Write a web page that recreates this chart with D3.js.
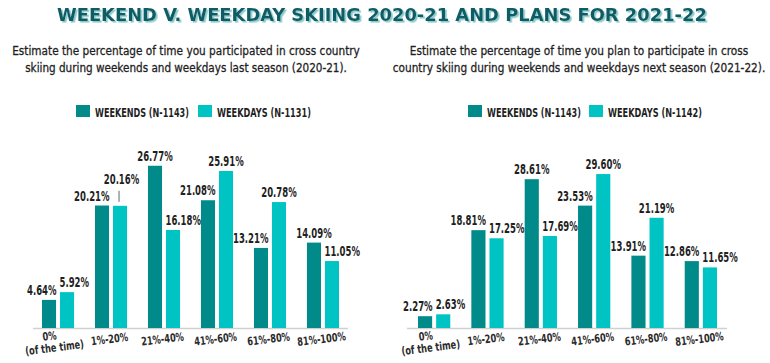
<!DOCTYPE html>
<html>
<head>
<meta charset="utf-8">
<script src="https://cdn.jsdelivr.net/npm/d3@7/dist/d3.min.js"></script>
<style>
  html, body { margin: 0; padding: 0; background: #ffffff; }
  svg { display: block; }
</style>
</head>
<body>
<svg id="chart" width="770" height="363"></svg>
<script>
// ---------- DATA ----------
const titleText = "WEEKEND V. WEEKDAY SKIING 2020-21 AND PLANS FOR 2021-22";
const categories = ["0%", "1%-20%", "21%-40%", "41%-60%", "61%-80%", "81%-100%"];
const categorySubLabels = ["(of the time)", "", "", "", "", ""];
const seriesNames = ["Weekends", "Weekdays"];

const leftSubtitle = ["Estimate the percentage of time you participated in cross country",
                      "skiing during weekends and weekdays last season (2020-21)."];
const leftLegend = ["WEEKENDS (N-1143)", "WEEKDAYS (N-1131)"];
const weekends2021 = [4.64, 20.21, 26.77, 21.08, 13.21, 14.09];
const weekdays2021 = [5.92, 20.16, 16.18, 25.91, 20.78, 11.05];

const rightSubtitle = ["Estimate the percentage of time you plan to participate in cross",
                       "country skiing during weekends and weekdays next season (2021-22)."];
const rightLegend = ["WEEKENDS (N-1143)", "WEEKDAYS (N-1142)"];
const weekends2122 = [2.27, 18.81, 28.61, 23.53, 13.91, 12.86];
const weekdays2122 = [2.63, 17.25, 17.69, 29.60, 21.19, 11.65];

// ---------- STYLE ----------
const colors = ["#008b8a", "#00c4c4"];
const font = "'DejaVu Sans Condensed', 'DejaVu Sans', sans-serif";
const svg = d3.select("#chart");

const defs = svg.append("defs");
defs.append("filter").attr("id", "titleShadow")
  .attr("x", "-5%").attr("y", "-30%").attr("width", "110%").attr("height", "160%")
  .append("feDropShadow")
  .attr("dx", 1.6).attr("dy", 1.6).attr("stdDeviation", 0)
  .attr("flood-color", "#8ccaca").attr("flood-opacity", 1);

// text helper: places text in a group and compresses it horizontally
function fitText(parent, x, y, txt, o) {
  const g = parent.append("g").attr("transform", `translate(${x},${y})` + (o.rotate ? ` rotate(${o.rotate})` : ""));
  const t = g.append("text")
    .attr("x", 0).attr("y", 0)
    .attr("text-anchor", o.anchor || "start")
    .attr("font-family", font)
    .attr("font-weight", o.weight || "normal")
    .attr("font-size", o.size)
    .attr("fill", o.fill || "#1f1f1f")
    .text(txt);
  if (o.stroke) t.attr("stroke", o.fill || "#1f1f1f").attr("stroke-width", o.stroke);
  if (o.filter) t.attr("filter", o.filter);
  const w = t.node().getComputedTextLength();
  const s = o.width ? o.width / w : (o.scale || 1);
  t.attr("transform", `scale(${s},1)`);
  return g;
}

// ---------- TITLE ----------
fitText(svg, 57, 21, titleText, { size: 18.5, weight: "bold", fill: "#0c5c66", width: 650, filter: "url(#titleShadow)" });

// global compression for value labels (reference "26.77%" is ~35px wide)
const probe = svg.append("text").attr("font-family", font).attr("font-weight", "bold")
  .attr("font-size", 13.5).text("26.77%");
const valScale = 35.5 / probe.node().getComputedTextLength();
probe.remove();
const probe2 = svg.append("text").attr("font-family", font).attr("font-weight", "bold")
  .attr("font-size", 11.5).text("21%-40%");
const catScale = 43 / probe2.node().getComputedTextLength();
probe2.remove();

// ---------- CHART FUNCTION ----------
function drawChart(opts) {
  const g = svg.append("g");
  const base = 328;

  opts.subtitle.forEach((line, i) => {
    fitText(g, opts.subCenter, 55 + i * 17, line, { size: 13, anchor: "middle", width: opts.subWidths[i], stroke: 0.3 });
  });

  opts.legend.forEach((txt, i) => {
    const lx = opts.legendX[i];
    g.append("rect").attr("x", lx).attr("y", 105).attr("width", 14).attr("height", 12)
      .attr("fill", colors[i]);
    fitText(g, lx + 19, 116.5, txt, { size: 12.5, weight: "bold", width: 94 });
  });

  const x0 = d3.scaleBand().domain(categories).range(opts.xRange).paddingInner(0.395).paddingOuter(0);
  const x1 = d3.scaleBand().domain(seriesNames).range([0, x0.bandwidth()]).paddingInner(0.22);
  const y = d3.scaleLinear().domain([0, opts.yMax]).range([base, 160]);

  g.append("line").attr("x1", opts.baseLine[0]).attr("x2", opts.baseLine[1])
    .attr("y1", base + 0.5).attr("y2", base + 0.5)
    .attr("stroke", "#d0d0d0").attr("stroke-width", 1.5);

  const rows = categories.map((c, i) => ({ cat: c, vals: [opts.we[i], opts.wd[i]] }));

  const grp = g.selectAll(".grp").data(rows).enter().append("g")
    .attr("transform", d => `translate(${x0(d.cat)},0)`);

  grp.selectAll("rect").data(d => d.vals.map((v, k) => ({ s: seriesNames[k], v, k })))
    .enter().append("rect")
    .attr("x", d => x1(d.s)).attr("width", x1.bandwidth())
    .attr("y", d => y(d.v)).attr("height", d => base - y(d.v))
    .attr("fill", d => colors[d.k]);

  const fmt = v => d3.format(".2f")(v) + "%";

  grp.each(function (d) {
    const gg = d3.select(this);
    const [we, wd] = d.vals;
    const yWe = y(we), yWd = y(wd);
    const gap = 5;
    const weLab = yWe - gap, wdLab = yWd - gap;
    const same = Math.abs(we - wd) < 0.1;
    const vOverlap = Math.abs(weLab - wdLab) < 12;
    const bw = x1.bandwidth();
    const xWe = x1(seriesNames[0]), xWd = x1(seriesNames[1]);
    const vs = { size: 13.5, weight: "bold", scale: valScale };

    const weEnd = same || vOverlap || yWd < weLab;
    fitText(gg, weEnd ? xWe + bw + 0.5 : xWe + bw / 2, weLab, fmt(we),
      Object.assign({ anchor: weEnd ? "end" : "middle" }, vs));

    if (same) {
      const cx = xWd + bw / 2;
      gg.append("line").attr("x1", cx - 1).attr("x2", cx - 1)
        .attr("y1", yWd - 4).attr("y2", yWd - 15)
        .attr("stroke", "#666").attr("stroke-width", 1);
      fitText(gg, cx + 1.5, yWd - 22, fmt(wd), Object.assign({ anchor: "middle" }, vs));
    } else {
      const wdStart = vOverlap || yWe < wdLab;
      fitText(gg, wdStart ? xWd - 0.5 : xWd + bw / 2, wdLab, fmt(wd),
        Object.assign({ anchor: wdStart ? "start" : "middle" }, vs));
    }
  });

  categories.forEach((c, i) => {
    const cx = x0(c) + x0.bandwidth() / 2;
    const two = categorySubLabels[i] !== "";
    const cs = { size: 11.5, weight: "bold", anchor: "middle", scale: catScale, rotate: -7, fill: "#2a2a2a" };
    if (two) {
      fitText(g, cx - 8, 340, c, cs);
      fitText(g, cx - 3, 351.5, categorySubLabels[i], cs);
    } else {
      fitText(g, cx - 1, 343, c, cs);
    }
  });
}

drawChart({
  subtitle: leftSubtitle, subCenter: 186, subWidths: [348, 322],
  legend: leftLegend, legendX: [76, 198],
  we: weekends2021, wd: weekdays2021,
  xRange: [42, 339], yMax: 27.72, baseLine: [33, 348]
});

drawChart({
  subtitle: rightSubtitle, subCenter: 579, subWidths: [339, 373],
  legend: rightLegend, legendX: [468, 589],
  we: weekends2122, wd: weekdays2122,
  xRange: [418, 717], yMax: 32.3, baseLine: [407, 727]
});
</script>
</body>
</html>
